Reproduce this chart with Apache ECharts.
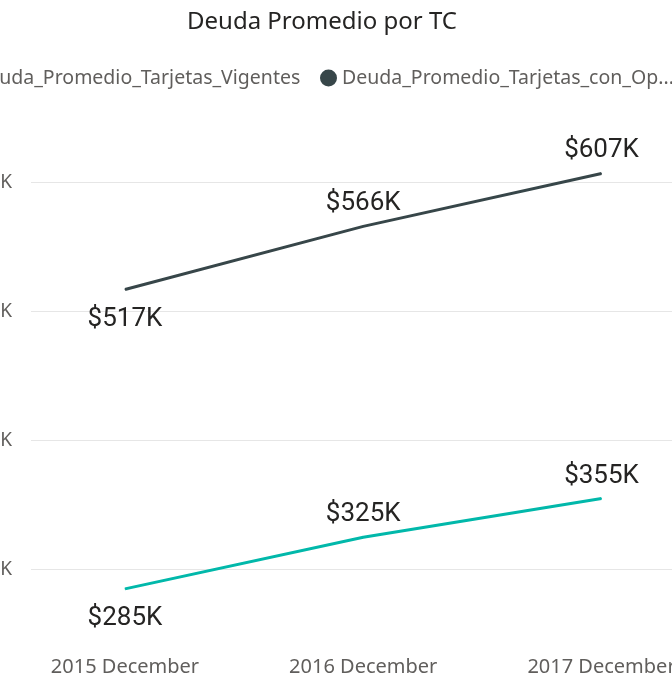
<!DOCTYPE html>
<html>
<head>
<meta charset="utf-8">
<script src="https://cdn.jsdelivr.net/npm/echarts@6/dist/echarts.min.js"></script>
<style>
html,body{margin:0;padding:0;background:#fff;}
#chart{width:672px;height:673px;}
</style>
</head>
<body>
<div id="chart"></div>
<script>
const categories = ['2015 December', '2016 December', '2017 December'];
const seriesNames = ['Deuda_Promedio_Tarjetas_Vigentes', 'Deuda_Promedio_Tarjetas_con_Operaciones'];
const vigentes = [285, 325, 355];
const conOperaciones = [517, 566, 607];
const yTicks = [300, 400, 500, 600];

const colors = ['#01B8AA', '#374649'];
const uiFont = '"Noto Sans", "Open Sans", sans-serif';
const labelFont = 'Roboto, "DejaVu Sans", sans-serif';

function makeData(values, positions) {
  return values.map((v, i) => ({
    value: [i, v],
    label: { position: positions[i], distance: positions[i] === 'bottom' ? 16 : 9 }
  }));
}

const chart = echarts.init(document.getElementById('chart'), null, { renderer: 'canvas' });

const labelCommon = {
  show: true,
  fontFamily: labelFont,
  fontSize: 26,
  color: '#252423',
  formatter: p => '$' + p.value[1] + 'K'
};

const legendCommon = {
  top: 68,
  padding: 0,
  icon: 'circle',
  itemWidth: 17,
  itemHeight: 17
};

chart.setOption({
  animation: false,
  title: {
    text: 'Deuda Promedio por TC',
    left: 187,
    top: 10,
    padding: 0,
    textStyle: { fontFamily: uiFont, fontSize: 24, fontWeight: 'normal', color: '#252423' }
  },
  legend: [
    Object.assign({}, legendCommon, {
      data: [{ name: seriesNames[0] }],
      left: -48,
      textStyle: { fontFamily: uiFont, fontSize: 19.5, color: '#605E5C' }
    }),
    Object.assign({}, legendCommon, {
      data: [{ name: seriesNames[1] }],
      left: 320,
      textStyle: { fontFamily: uiFont, fontSize: 19.5, color: '#605E5C', width: 336, overflow: 'truncate', ellipsis: '...' }
    })
  ],
  grid: {
    left: 31,
    right: -23.5,
    top: 118,
    bottom: 39,
    containLabel: false,
    outerBoundsMode: 'none'
  },
  xAxis: {
    type: 'value',
    min: -0.3945,
    max: 2.3945,
    axisLine: { show: false },
    axisTick: { show: false },
    splitLine: { show: false },
    axisLabel: {
      customValues: [0, 1, 2],
      formatter: v => categories[Math.round(v)],
      margin: 23,
      fontFamily: uiFont,
      fontSize: 20,
      color: '#605E5C'
    }
  },
  yAxis: {
    type: 'value',
    min: 250,
    max: 650,
    axisLine: { show: false },
    axisTick: { show: false, customValues: yTicks },
    axisLabel: {
      customValues: yTicks,
      formatter: v => '$' + v + 'K',
      margin: 19,
      fontFamily: uiFont,
      fontSize: 19,
      color: '#605E5C'
    },
    splitLine: { show: true, lineStyle: { color: '#E6E6E6', width: 1 } }
  },
  series: [
    {
      name: seriesNames[0],
      type: 'line',
      data: makeData(vigentes, ['bottom', 'top', 'top']),
      symbol: 'circle',
      symbolSize: 1,
      itemStyle: { color: colors[0] },
      lineStyle: { color: colors[0], width: 3 },
      label: labelCommon,
      emphasis: { disabled: true }
    },
    {
      name: seriesNames[1],
      type: 'line',
      data: makeData(conOperaciones, ['bottom', 'top', 'top']),
      symbol: 'circle',
      symbolSize: 1,
      itemStyle: { color: colors[1] },
      lineStyle: { color: colors[1], width: 3 },
      label: labelCommon,
      emphasis: { disabled: true }
    }
  ]
});
</script>
</body>
</html>
